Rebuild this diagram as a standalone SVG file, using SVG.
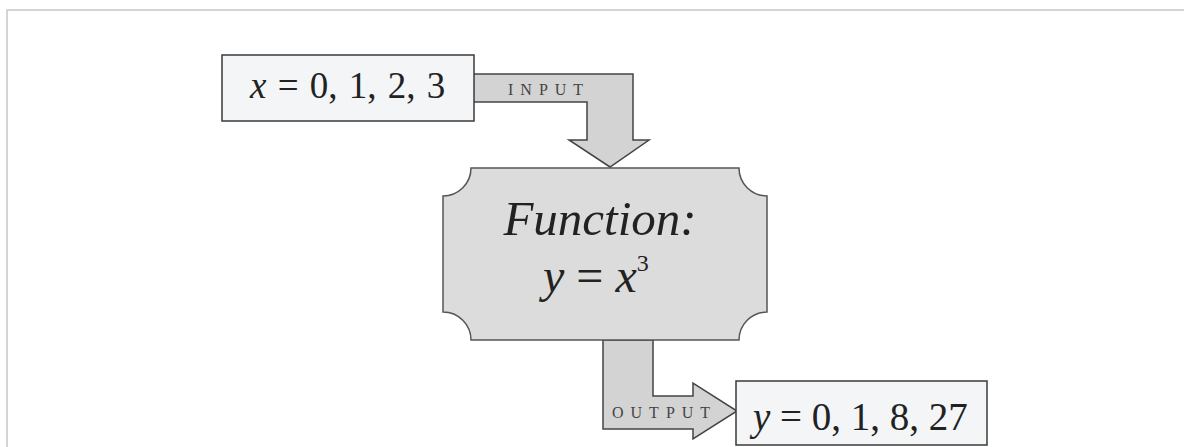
<svg xmlns="http://www.w3.org/2000/svg" width="1184" height="447" viewBox="0 0 1184 447">
<style>
.frame{fill:none;stroke:#c8c8cc;stroke-width:1.5}
.box{fill:#f3f5f7;stroke:#3a3a3a;stroke-width:1.5}
.arrow{fill:#d3d3d3;stroke:#444;stroke-width:1.5;stroke-linejoin:miter}
.func{fill:#dcdcdc;stroke:#555;stroke-width:1.5}
.t{font-family:"Liberation Serif","Times New Roman",serif;fill:#222}
.lbl{font-family:"Liberation Serif","Times New Roman",serif;fill:#444;font-size:16px;letter-spacing:7px}
</style>
<rect width="1184" height="447" fill="#ffffff"/>
<path class="frame" d="M7,447 L7,10 L1184,10"/>
<g id="connectors">
<g id="input-arrow">
<polygon class="arrow" points="473,74 633,74 633,140 649,140 610,167 569,140 587,140 587,102 473,102"/>
<text class="lbl" x="508" y="95">INPUT</text>
</g>
<g id="output-arrow">
<polygon class="arrow" points="603,340 653,340 653,396 693,396 693,383 737,411 693,439 693,429 603,429"/>
<text class="lbl" x="612" y="418">OUTPUT</text>
</g>
</g>
<g id="input-node">
<rect class="box" x="222" y="55" width="252" height="66"/>
<text class="t" x="250" y="98" font-size="37" word-spacing="2"><tspan font-style="italic">x</tspan> = 0, 1, 2, 3</text>
</g>
<g id="function-node">
<path class="func" d="M471,168 L739,168 A28,28 0 0 0 767,196 L767,312 A28,28 0 0 0 739,340 L471,340 A28,28 0 0 0 443,312 L443,196 A28,28 0 0 0 471,168 Z"/>
<text class="t" x="600" y="235" font-size="49" font-style="italic" text-anchor="middle">Function:</text>
<text class="t" x="543" y="292" font-size="48"><tspan font-style="italic">y</tspan> = <tspan font-style="italic">x</tspan><tspan font-size="24" dy="-21">3</tspan></text>
</g>
<g id="output-node">
<rect class="box" x="736" y="381" width="251" height="64"/>
<text class="t" x="753" y="430" font-size="39"><tspan font-style="italic">y</tspan> = 0, 1, 8, 27</text>
</g>
</svg>
